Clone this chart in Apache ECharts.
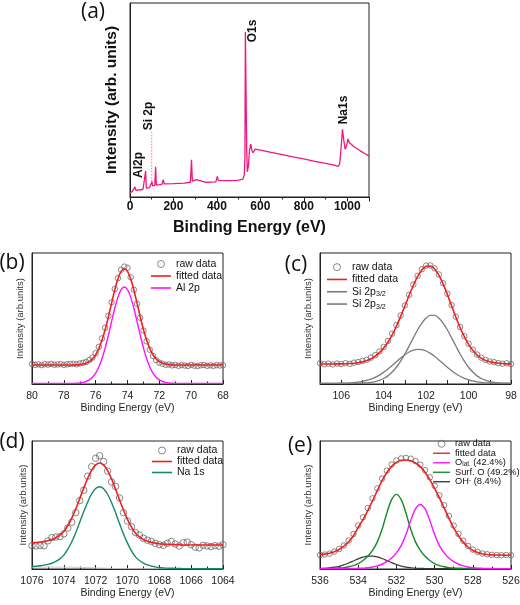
<!DOCTYPE html>
<html><head><meta charset="utf-8">
<script src="https://cdn.jsdelivr.net/npm/echarts@6.0.0/dist/echarts.min.js"></script>
<style>html,body{margin:0;padding:0;background:#fff}#c{width:520px;height:605px}</style>
</head><body><div id="c"></div>
<script>
// ---------- (a) survey spectrum ----------
const surveyX = [0,10,18,23,27,40,60,68,72,75,90,97,101,104,114,118,121,135,148,153,158,200,250,278,283,287,295,305,312,350,395,398,402,406,450,490,495,500,520,526,529,531,534,537,540,545,550,556,561,566,576,600,650,690,693,697,750,800,850,900,940,958,965,972,978,983,990,996,1003,1010,1031,1060,1080,1100];
const surveyY = [2.0,2.8,3.2,5.2,3.4,3.6,4.0,4.2,13.4,4.6,4.8,5.4,8.0,5.8,6.0,15.6,6.2,6.3,6.6,8.9,6.8,6.9,7.2,7.6,19.2,8.2,7.8,8.9,8.0,7.6,7.8,9.0,10.6,8.6,8.4,8.6,9.2,8.7,9.2,11.5,20,85,55,25,13,16,24,27.3,24,22.8,24.7,24.2,23.0,22.1,23.0,22.0,20.7,19.6,18.4,17.3,16.4,15.8,17,26,34.9,30,24.7,26,29.9,28,25.9,23.8,22.4,21.2];
const siMarkX = [100, 100];
const siMarkY = [8.0, 34.5];
const surveyPeakNames = ['Al2p', 'Si 2p', 'O1s', 'Na1s'];

// ---------- (b) Al 2p ----------
const bX = [80.0,79.8,79.6,79.4,79.2,79.0,78.8,78.6,78.4,78.2,78.0,77.8,77.6,77.4,77.2,77.0,76.8,76.6,76.4,76.2,76.0,75.8,75.6,75.4,75.2,75.0,74.8,74.6,74.4,74.2,74.0,73.8,73.6,73.4,73.2,73.0,72.8,72.6,72.4,72.2,72.0,71.8,71.6,71.4,71.2,71.0,70.8,70.6,70.4,70.2,70.0,69.8,69.6,69.4,69.2,69.0,68.8,68.6,68.4,68.2,68.0];
const bRaw = [15.2,14.6,15.0,14.4,15.1,14.8,15.3,14.7,14.9,15.2,14.6,15.0,15.3,15.4,15.0,15.6,16.2,16.8,18.3,20.2,23.5,28.4,34.8,42.9,52.0,62.4,72.5,80.8,87.2,89.6,88.7,81.5,72.0,61.2,50.6,40.8,32.6,26.1,21.4,18.2,16.3,15.4,14.6,14.9,14.2,14.5,13.9,14.4,14.1,13.8,14.6,14.0,13.7,14.3,14.5,13.9,14.2,13.8,14.4,14.1,14.3];
const bFit = [14.5,14.5,14.5,14.5,14.5,14.5,14.5,14.5,14.5,14.5,14.5,14.5,14.5,14.5,14.6,14.8,15.2,15.9,17.1,19.1,22.3,27.0,33.5,41.6,51.3,61.7,71.8,80.3,86.0,88.0,86.0,80.3,71.8,61.7,51.3,41.6,33.5,27.0,22.3,19.1,17.1,15.9,15.2,14.8,14.6,14.5,14.5,14.5,14.5,14.5,14.5,14.5,14.5,14.5,14.5,14.5,14.5,14.5,14.5,14.5,14.5];
const bAl2p = [0.5,0.5,0.5,0.5,0.5,0.5,0.5,0.5,0.5,0.5,0.5,0.5,0.5,0.5,0.6,0.8,1.2,1.9,3.1,5.1,8.3,13.0,19.5,27.6,37.3,47.7,57.8,66.3,72.0,74.0,72.0,66.3,57.8,47.7,37.3,27.6,19.5,13.0,8.3,5.1,3.1,1.9,1.2,0.8,0.6,0.5,0.5,0.5,0.5,0.5,0.5,0.5,0.5,0.5,0.5,0.5,0.5,0.5,0.5,0.5,0.5];

// ---------- (c) Si 2p ----------
const cX = [107.0,106.8,106.6,106.4,106.2,106.0,105.8,105.6,105.4,105.2,105.0,104.8,104.6,104.4,104.2,104.0,103.8,103.6,103.4,103.2,103.0,102.8,102.6,102.4,102.2,102.0,101.8,101.6,101.4,101.2,101.0,100.8,100.6,100.4,100.2,100.0,99.8,99.6,99.4,99.2,99.0,98.8,98.6,98.4,98.2,98.0];
const cRaw = [15.8,15.1,15.5,14.9,15.6,15.2,15.9,15.4,16.3,16.8,17.6,18.5,20.1,22.0,24.8,28.3,32.9,38.4,44.9,52.3,60.0,68.1,75.9,82.6,87.6,90.4,90.5,88.3,83.6,76.9,68.9,60.2,51.4,43.5,36.5,30.8,26.2,22.5,20.1,18.4,17.2,16.6,15.9,15.5,15.8,15.2];
const cFit = [15.3,15.3,15.3,15.3,15.4,15.4,15.5,15.6,15.8,16.2,16.9,17.9,19.3,21.3,23.9,27.5,31.9,37.5,44.1,51.6,59.5,67.7,75.4,82.2,87.1,89.9,90.1,87.8,83.1,76.4,68.4,59.7,51.1,43.1,36.1,30.3,25.7,22.1,19.7,18.0,17.0,16.3,15.8,15.6,15.4,15.35];
const cSi1 = [0.5,0.5,0.5,0.5,0.5,0.5,0.5,0.5,0.5,0.5,0.7,0.9,1.3,1.9,2.8,4.2,6.2,9.1,12.8,17.5,22.9,29.0,35.3,41.4,46.5,50.4,52.4,52.4,50.4,46.5,41.4,35.3,29.0,22.9,17.5,12.8,9.1,6.2,4.2,2.8,1.9,1.3,0.9,0.7,0.6,0.5];
const cSi2 = [0.5,0.5,0.5,0.5,0.5,0.6,0.7,0.8,1.0,1.4,1.9,2.7,3.7,5.1,6.8,9.0,11.4,14.1,17.0,19.8,22.3,24.4,25.8,26.5,26.3,25.2,23.4,21.1,18.4,15.6,12.7,10.1,7.8,5.9,4.3,3.2,2.3,1.6,1.2,0.9,0.8,0.7,0.6,0.5,0.5,0.5];

// ---------- (d) Na 1s ----------
const dX = [1076,1075.75,1075.5,1075.25,1075,1074.75,1074.5,1074.25,1074,1073.75,1073.5,1073.25,1073,1072.75,1072.5,1072.25,1072,1071.75,1071.5,1071.25,1071,1070.75,1070.5,1070.25,1070,1069.75,1069.5,1069.25,1069,1068.75,1068.5,1068.25,1068,1067.75,1067.5,1067.25,1067,1066.75,1066.5,1066.25,1066,1065.75,1065.5,1065.25,1065,1064.75,1064.5,1064.25,1064];
const dRaw = [18.2,18.0,18.4,18.1,22.0,24.5,25.0,25.3,27.5,32.0,36.5,44.0,53.5,61.5,72.5,80.0,86.5,88.5,84.0,76.5,68.0,64.5,55.5,44.0,37.5,33.0,28.5,26.5,24.0,22.5,21.5,20.0,19.0,18.5,20.0,21.5,19.5,18.0,20.5,21.0,19.0,17.0,16.5,18.5,18.0,17.5,18.2,17.8,19.0];
const dFit = [20.5,20.7,21.0,21.5,22.1,23.0,24.4,26.4,29.3,34.0,39.8,46.9,55.0,63.2,70.9,77.3,81.4,82.8,81.2,76.9,70.3,62.4,54.0,45.9,38.7,32.7,28.0,25.1,23.1,21.7,20.8,20.2,19.7,19.4,19.2,19.1,18.95,18.9,18.8,18.8,18.8,18.75,18.7,18.7,18.7,18.7,18.7,18.7,18.7];
const dNa1s = [2.0,2.2,2.5,3.0,3.6,4.5,5.9,7.9,10.8,15.5,21.3,28.4,36.5,44.7,52.4,58.8,62.9,64.3,62.7,58.4,51.8,43.9,35.5,27.4,20.2,14.2,9.5,6.6,4.6,3.2,2.3,1.7,1.2,0.9,0.7,0.6,0.45,0.4,0.3,0.3,0.3,0.25,0.2,0.2,0.2,0.2,0.2,0.2,0.2];
const dBg = [1.5,1.5,1.5,1.5,1.5,1.5,1.5,1.5,1.5,1.45,1.4,1.33,1.25,1.15,1.05,0.95,0.85,0.75,0.65,0.55,0.47,0.4,0.34,0.3,0.26,0.2,0.2,0.2,0.2,0.2,0.2,0.2,0.2,0.2,0.2,0.2,0.2,0.2,0.2,0.2,0.2,0.2,0.2,0.2,0.2,0.2,0.2,0.2,0.2];

// ---------- (e) O 1s ----------
const eX = [536,535.75,535.5,535.25,535,534.75,534.5,534.25,534,533.75,533.5,533.25,533,532.75,532.5,532.25,532,531.75,531.5,531.25,531,530.75,530.5,530.25,530,529.75,529.5,529.25,529,528.75,528.5,528.25,528,527.75,527.5,527.25,527,526.75,526.5,526.25,526];
const eRaw = [11.0,11.3,12.0,13.6,15.6,18.4,22.3,27.3,34.0,40.4,47.6,55.2,63.0,70.6,76.8,81.6,84.8,86.4,86.8,86.2,84.3,81.5,77.2,71.6,64.9,57.6,49.8,41.5,33.9,27.4,22.1,18.1,15.2,13.3,12.1,11.5,11.1,10.9,10.8,10.9,10.7];
const eFit = [11.3,11.6,12.3,13.5,15.2,17.8,21.3,26.0,32.5,38.6,45.6,53.3,61.2,69.0,75.4,80.2,83.3,84.9,85.2,84.5,82.8,80.0,75.6,69.8,63.0,55.6,47.8,39.6,32.2,26.0,21.0,17.2,14.6,12.9,11.9,11.3,11.0,10.9,10.9,10.8,10.8];
const eOlat = [0.3,0.3,0.3,0.3,0.3,0.35,0.4,0.45,0.55,0.7,1.0,1.55,2.4,3.7,5.7,8.6,12.6,18.3,26.9,37.9,46.9,50.4,46.9,37.9,26.9,18.3,12.6,8.6,5.7,3.7,2.4,1.55,1.0,0.7,0.55,0.45,0.35,0.3,0.3,0.3,0.3];
const eSurfO = [0.4,0.4,0.5,0.6,0.8,1.1,1.75,2.7,4.2,6.6,9.9,14.5,21.2,31.0,43.8,54.2,58.3,54.2,43.8,31.0,21.2,14.5,9.9,6.6,4.2,2.7,1.75,1.1,0.8,0.6,0.5,0.4,0.4,0.3,0.3,0.3,0.3,0.3,0.3,0.3,0.3];
const eOH = [0.4,0.6,0.9,1.4,2.1,3.3,4.7,6.3,7.9,9.3,10.1,10.1,9.5,8.2,6.6,5.0,3.5,2.3,1.5,1.0,0.6,0.45,0.4,0.3,0.3,0.3,0.3,0.3,0.3,0.3,0.3,0.3,0.3,0.3,0.3,0.3,0.3,0.3,0.3,0.3,0.3];

// ---------- build ----------
const FONT = '"Liberation Sans", Arial, sans-serif';
const pairs = (xs, ys) => xs.map((x, i) => [x, ys[i]]);
const chart = echarts.init(document.getElementById('c'), null, {renderer: 'canvas', width: 520, height: 605});

const gridBase = {show: true, borderColor: '#222', borderWidth: 1, backgroundColor: 'rgba(0,0,0,0)', containLabel: false, outerBoundsMode: 'none'};
const grids = [
  Object.assign({left: 130, top: 3, width: 239, height: 194}, gridBase),
  Object.assign({left: 32, top: 253, width: 191, height: 131}, gridBase),
  Object.assign({left: 320, top: 253, width: 191, height: 131}, gridBase),
  Object.assign({left: 32, top: 441, width: 191, height: 128}, gridBase),
  Object.assign({left: 320, top: 441, width: 191, height: 128}, gridBase)
];

const plain = v => String(v);
function detailX(gi, min, max, interval, minorSplit, fmt) {
  return {
    gridIndex: gi, type: 'value', min: min, max: max, interval: interval, inverse: true,
    axisLine: {show: true, onZero: false, lineStyle: {color: '#222', width: 1}},
    axisTick: {show: true, inside: true, length: 4, lineStyle: {color: '#222', width: 1}},
    minorTick: {show: minorSplit > 1, splitNumber: minorSplit, length: 2.5, lineStyle: {color: '#222', width: 1}},
    splitLine: {show: false}, minorSplitLine: {show: false},
    axisLabel: {fontSize: 10.5, color: '#222', fontFamily: FONT, margin: 7, showMaxLabel: fmt ? false : true, formatter: fmt || plain, hideOverlap: false},
    name: 'Binding Energy (eV)', nameLocation: 'middle', nameGap: 19, nameMoveOverlap: false,
    nameTextStyle: {fontSize: 10.5, color: '#222', fontFamily: FONT}
  };
}
function detailY(gi, gap, name, style) {
  return {
    gridIndex: gi, type: 'value', min: 0, max: 100,
    axisLine: {show: true, onZero: false, lineStyle: {color: '#222'}}, axisTick: {show: false},
    axisLabel: {show: false}, splitLine: {show: false},
    name: name || 'Intensity (arb.units)', nameLocation: 'middle', nameRotate: 90, nameGap: gap, nameMoveOverlap: false,
    nameTextStyle: style || {fontSize: 9.5, color: '#333', fontFamily: FONT}
  };
}

const xAxes = [
  {
    gridIndex: 0, type: 'value', min: 0, max: 1100, interval: 200,
    axisLine: {show: true, onZero: false, lineStyle: {color: '#222', width: 1}},
    axisTick: {show: true, inside: false, length: 4.5, lineStyle: {color: '#222'}},
    minorTick: {show: true, splitNumber: 2, length: 2.5, lineStyle: {color: '#222'}},
    splitLine: {show: false}, minorSplitLine: {show: false},
    axisLabel: {fontSize: 12, fontWeight: 'bold', color: '#111', fontFamily: FONT, margin: 4, showMaxLabel: false, hideOverlap: false, formatter: plain},
    name: 'Binding Energy (eV)', nameLocation: 'middle', nameGap: 23, nameMoveOverlap: false,
    nameTextStyle: {fontSize: 16, fontWeight: 'bold', color: '#111', fontFamily: FONT}
  },
  detailX(1, 68, 80, 2, 2),
  detailX(2, 98, 107, 1, 0, v => (v % 2 === 0 ? String(v) : '')),
  detailX(3, 1064, 1076, 2, 2),
  detailX(4, 526, 536, 2, 2)
];
const yAxes = [
  detailY(0, 10, 'Intensity (arb. units)', {fontSize: 15.5, fontWeight: 'bold', color: '#111', fontFamily: FONT}),
  detailY(1, 7), detailY(2, 6.5), detailY(3, 4), detailY(4, 6.5)
];

const rawStyle = (size) => ({type: 'scatter', symbol: 'circle', symbolSize: size, silent: true,
  itemStyle: {color: 'rgba(0,0,0,0)', borderColor: '#6c6c6c', borderWidth: 1}});
const lineS = (name, gi, xs, ys, color, width, extra) => Object.assign({
  name: name, type: 'line', xAxisIndex: gi, yAxisIndex: gi, data: pairs(xs, ys), symbol: 'none',
  smooth: 0.3, silent: true, lineStyle: {color: color, width: width}, itemStyle: {color: color}
}, extra || {});
const rawS = (gi, xs, ys, size) => Object.assign(rawStyle(size), {name: 'raw data', xAxisIndex: gi, yAxisIndex: gi, data: pairs(xs, ys)});

const RED = '#f21f1f';
const series = [
  lineS('survey', 0, surveyX, surveyY, '#f2167c', 1.3, {smooth: false}),
  lineS('si marker', 0, siMarkX, siMarkY, '#ff7a7a', 1, {smooth: false, lineStyle: {color: '#ff7a7a', width: 1, type: [1.5, 1.5]}}),

  rawS(1, bX, bRaw, 5.5),
  lineS('fitted data', 1, bX, bFit, RED, 1.6),
  lineS('Al 2p', 1, bX, bAl2p, '#ff10ff', 1.4),

  rawS(2, cX, cRaw, 5.5),
  lineS('Si1', 2, cX, cSi1, '#7a7a7a', 1.3),
  lineS('Si2', 2, cX, cSi2, '#7a7a7a', 1.3),
  lineS('fitted data', 2, cX, cFit, RED, 1.6),

  rawS(3, dX, dRaw, 6.5),
  lineS('bg', 3, dX, dBg, '#c8c8c8', 1),
  lineS('Na 1s', 3, dX, dNa1s, '#168a62', 1.4),
  lineS('fitted data', 3, dX, dFit, RED, 1.6),

  rawS(4, eX, eRaw, 5.5),
  lineS('OH', 4, eX, eOH, '#3a3a3a', 1.2),
  lineS('SurfO', 4, eX, eSurfO, '#17892b', 1.4),
  lineS('Olat', 4, eX, eOlat, '#ff10ff', 1.4),
  lineS('fitted data', 4, eX, eFit, RED, 1.6)
];

const legendLabel = {
  'raw data': 'raw data', 'fitted data': 'fitted data', 'Al 2p': 'Al 2p',
  'Si1': 'Si 2p{sub|3/2}', 'Si2': 'Si 2p{sub|3/2}', 'Na 1s': 'Na 1s',
  'Olat': 'O{sub|lat.} (42.4%)', 'SurfO': 'Surf. O (49.2%)', 'OH': 'OH{sup|-} (8.4%)'
};
const LINE_ICON = 'path://M0,0H30V2.4H0Z';
function legendAt(left, top, names, fs, lh, iw) {
  return {
    left: left, top: top, orient: 'vertical', itemWidth: iw, itemHeight: 7, itemGap: 0,
    selectedMode: false, padding: 0, symbolKeepAspect: true,
    data: names.map(n => n === 'raw data' ? {name: n, icon: 'circle', itemStyle: {borderWidth: 1}} : {name: n, icon: LINE_ICON}),
    formatter: n => legendLabel[n] || n,
    textStyle: {fontSize: fs, lineHeight: lh, color: '#111', fontFamily: FONT,
      rich: {sub: {fontSize: fs * 0.68, lineHeight: 3, verticalAlign: 'bottom', fontFamily: FONT, color: '#111'},
             sup: {fontSize: fs * 0.68, lineHeight: 3, verticalAlign: 'top', fontFamily: FONT, color: '#111'}}}
  };
}
const legends = [
  legendAt(151, 258, ['raw data', 'fitted data', 'Al 2p'], 10.5, 12, 20),
  legendAt(327, 261, ['raw data', 'fitted data', 'Si1', 'Si2'], 10.5, 12.3, 20),
  legendAt(152, 445, ['raw data', 'fitted data', 'Na 1s'], 10.5, 10.5, 20),
  legendAt(433, 439, ['raw data', 'fitted data', 'Olat', 'SurfO', 'OH'], 9.3, 9.5, 17)
];

const panelFont = {fontSize: 21, fontFamily: '"Open Sans", sans-serif', fill: '#111', align: 'center', verticalAlign: 'middle'};
const peakFont = {fontSize: 12, fontWeight: 'bold', fontFamily: FONT, fill: '#111', align: 'center', verticalAlign: 'middle'};
const peakPos = [[139, 165], [149, 116], [252.5, 31], [344, 110]];
const graphic = [
  {type: 'text', x: 93, y: 12, style: Object.assign({text: '(a)'}, panelFont)},
  {type: 'text', x: 12, y: 263, style: Object.assign({text: '(b)'}, panelFont)},
  {type: 'text', x: 296, y: 265, style: Object.assign({text: '(c)'}, panelFont)},
  {type: 'text', x: 12, y: 442, style: Object.assign({text: '(d)'}, panelFont)},
  {type: 'text', x: 300, y: 446, style: Object.assign({text: '(e)'}, panelFont)}
].concat(surveyPeakNames.map((t, i) => ({type: 'text', x: peakPos[i][0], y: peakPos[i][1], rotation: Math.PI / 2,
  style: Object.assign({text: t}, peakFont)})));

chart.setOption({
  animation: false, backgroundColor: '#ffffff',
  grid: grids, xAxis: xAxes, yAxis: yAxes, legend: legends, series: series, graphic: graphic
});
</script></body></html>
